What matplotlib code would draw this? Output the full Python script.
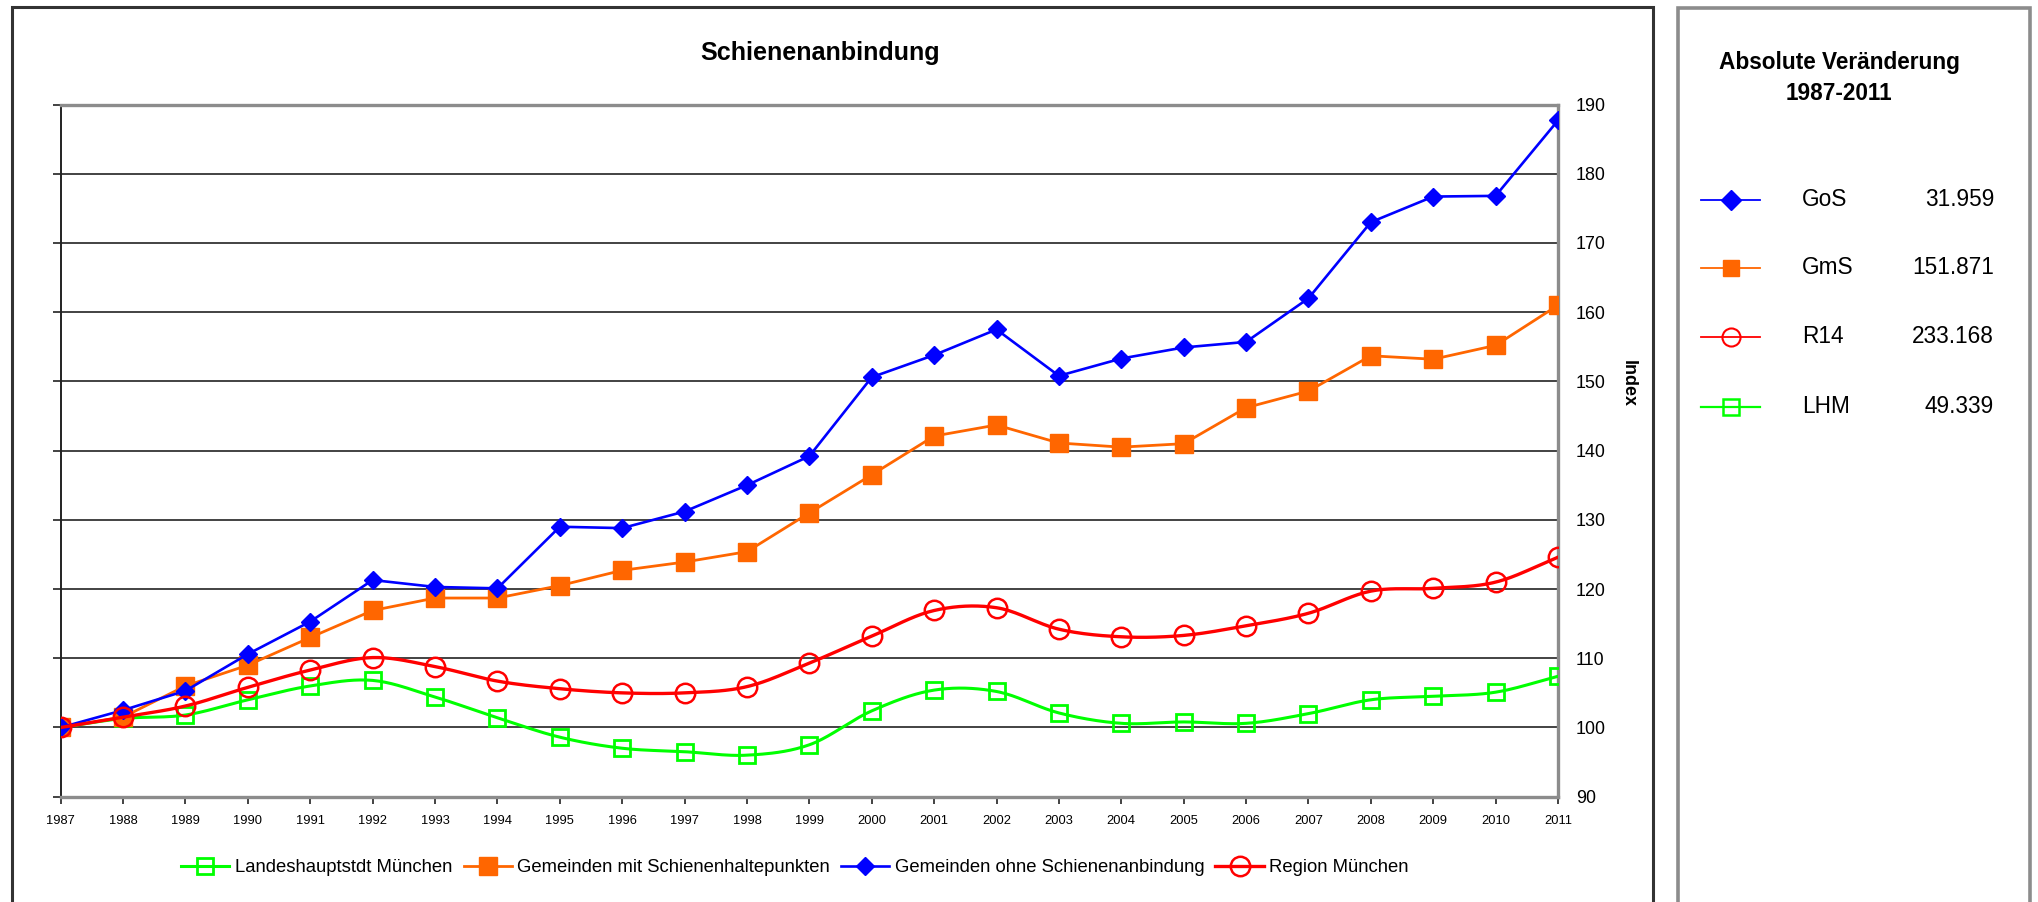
import numpy as np
import matplotlib
matplotlib.use('Agg')
import matplotlib.pyplot as plt
from matplotlib.lines import Line2D
from matplotlib.patches import Rectangle
from matplotlib import font_manager

# ---------------- data ----------------
years = list(range(1987, 2012))
gos = [100, 102.5, 105.3, 110.6, 115.3, 121.3, 120.3, 120.1, 129.0, 128.8, 131.2, 135.0,
       139.2, 150.6, 153.8, 157.5, 150.8, 153.3, 154.9, 155.7, 162.0, 173.0, 176.7, 176.8, 187.7]
gms = [100, 101.5, 106.0, 109.0, 113.0, 116.9, 118.7, 118.7, 120.5, 122.7, 123.9, 125.4,
       131.0, 136.5, 142.1, 143.7, 141.1, 140.5, 141.0, 146.2, 148.6, 153.7, 153.2, 155.2, 161.0]
r14 = [100, 101.5, 103.1, 105.8, 108.3, 110.1, 108.8, 106.7, 105.6, 105.0, 105.0, 105.9,
       109.3, 113.2, 116.9, 117.3, 114.2, 113.1, 113.3, 114.7, 116.5, 119.7, 120.1, 121.0, 124.6]
lhm = [100, 101.3, 101.8, 104.0, 106.0, 106.8, 104.4, 101.4, 98.6, 97.0, 96.5, 96.0,
       97.5, 102.4, 105.4, 105.2, 102.1, 100.6, 100.8, 100.6, 102.0, 104.0, 104.5, 105.1, 107.4]

series_names = ["Landeshauptstdt München", "Gemeinden mit Schienenhaltepunkten",
                "Gemeinden ohne Schienenanbindung", "Region München"]
short_names = ["GoS", "GmS", "R14", "LHM"]
abs_change = ["31.959", "151.871", "233.168", "49.339"]
y_ticks = list(range(90, 191, 10))

title = "Schienenanbindung"
panel_title = "Absolute Veränderung\n1987-2011"

# ---------------- fonts ----------------
names = {f.name for f in font_manager.fontManager.ttflist}
if 'Liberation Sans Narrow' in names:
    FONT = 'Liberation Sans Narrow'
    fs = 1.0
else:
    FONT = 'Liberation Sans'
    fs = 0.86
plt.rcParams['font.family'] = [FONT, 'DejaVu Sans']

W, H = 2038, 902
fig = plt.figure(figsize=(W / 100, H / 100), dpi=100)


def fx(px):
    return px / W


def fy(py):
    return 1 - py / H


ax = fig.add_axes([fx(60.7), fy(796.7), fx(1558) - fx(60.7), fy(104.5) - fy(796.7)])


def catmull(x, y, n=20):
    x = np.asarray(x, float)
    y = np.asarray(y, float)
    px = np.concatenate([[2 * x[0] - x[1]], x, [2 * x[-1] - x[-2]]])
    py = np.concatenate([[2 * y[0] - y[1]], y, [2 * y[-1] - y[-2]]])
    xs, ys = [], []
    t = np.linspace(0, 1, n, endpoint=False)
    for i in range(1, len(px) - 2):
        for arr, out in ((px, xs), (py, ys)):
            p0, p1, p2, p3 = arr[i - 1], arr[i], arr[i + 1], arr[i + 2]
            out.extend(0.5 * ((2 * p1) + (-p0 + p2) * t + (2 * p0 - 5 * p1 + 4 * p2 - p3) * t ** 2
                              + (-p0 + 3 * p1 - 3 * p2 + p3) * t ** 3))
    xs.append(x[-1])
    ys.append(y[-1])
    return xs, ys


GREEN = '#00FF00'
ORANGE = '#FF6600'
BLUE = '#0000FF'
RED = '#FF0000'

# green (smoothed)
sx, sy = catmull(years, lhm)
ax.plot(sx, sy, color=GREEN, lw=2.2, zorder=3)
ax.plot(years, lhm, ls='none', marker='s', ms=11, mfc='none', mec=GREEN, mew=2.0, zorder=3)
# orange
ax.plot(years, gms, color=ORANGE, lw=2.0, marker='s', ms=12.5, mfc=ORANGE, mec=ORANGE, zorder=4)
# blue
ax.plot(years, gos, color=BLUE, lw=1.9, marker='D', ms=9.0, mfc=BLUE, mec=BLUE, zorder=5)
# red (smoothed)
sx, sy = catmull(years, r14)
ax.plot(sx, sy, color=RED, lw=2.4, zorder=6)
ax.plot(years, r14, ls='none', marker='o', ms=14, mfc='none', mec=RED, mew=1.8, zorder=6)

ax.set_xlim(years[0], years[-1])
ax.set_ylim(y_ticks[0], y_ticks[-1])
ax.set_yticks(y_ticks)
ax.set_xticks(years)
ax.set_xticklabels([str(y) for y in years], fontsize=10.8 * fs)
ax.tick_params(axis='x', direction='out', length=5, width=1.2, color='#222', pad=8)
ax.tick_params(axis='y', direction='out', length=6, width=1.2, color='#222',
               labelleft=False, left=True)
ax.yaxis.grid(True, color='#222', lw=1.2)
ax.set_axisbelow(True)
ax.spines['left'].set_color('#222')
ax.spines['left'].set_linewidth(1.4)
for s in ('right', 'top', 'bottom'):
    ax.spines[s].set_color('#8c8c8c')
    ax.spines[s].set_linewidth(2.4)

ax2 = ax.twinx()
ax2.set_ylim(y_ticks[0], y_ticks[-1])
ax2.set_yticks(y_ticks)
ax2.set_yticklabels([str(v) for v in y_ticks], fontsize=15 * fs)
ax2.tick_params(axis='y', length=0, pad=13)
for s in ax2.spines.values():
    s.set_visible(False)

fig.text(fx(1628), fy(384), "Index", rotation=-90, ha='center', va='center',
         fontsize=15 * fs, fontweight='bold')
fig.text(fx(820), fy(53), title, ha='center', va='center', fontsize=21 * fs, fontweight='bold')

# bottom legend
handles = [
    Line2D([], [], color=GREEN, lw=2.2, marker='s', ms=11, mfc='none', mec=GREEN, mew=2.0),
    Line2D([], [], color=ORANGE, lw=2.0, marker='s', ms=12.5, mfc=ORANGE, mec=ORANGE),
    Line2D([], [], color=BLUE, lw=1.9, marker='D', ms=9.0, mfc=BLUE, mec=BLUE),
    Line2D([], [], color=RED, lw=2.4, marker='o', ms=14, mfc='none', mec=RED, mew=1.8),
]
fig.legend(handles, series_names, loc='center', bbox_to_anchor=(fx(795), fy(868)), ncol=4,
           frameon=False, fontsize=15.5 * fs, handlelength=2.6, handletextpad=0.3,
           columnspacing=0.6, borderaxespad=0)

# frames
fig.add_artist(Rectangle((fx(12), -0.05), fx(1653) - fx(12), fy(7) + 0.05, transform=fig.transFigure,
                         fill=False, edgecolor='#333333', lw=2.2))
fig.add_artist(Rectangle((fx(1678), -0.05), fx(2030) - fx(1678), fy(8) + 0.05, transform=fig.transFigure,
                         fill=False, edgecolor='#8c8c8c', lw=2.6))

# side panel
fig.text(fx(1839), fy(78), panel_title, ha='center', va='center', fontsize=19 * fs,
         fontweight='bold', linespacing=1.45)
panel_styles = [
    dict(color=BLUE, marker='D', ms=10.5, mfc=BLUE, mec=BLUE, lw=1.3),
    dict(color=ORANGE, marker='s', ms=12, mfc=ORANGE, mec=ORANGE, lw=1.3),
    dict(color=RED, marker='o', ms=13, mfc='none', mec=RED, mew=1.5, lw=1.3),
    dict(color=GREEN, marker='s', ms=12, mfc='none', mec=GREEN, mew=1.8, lw=1.6),
]
row_y = [200, 268, 337, 407]
for name, val, st, ry in zip(short_names, abs_change, panel_styles, row_y):
    st = dict(st)
    marker = st.pop('marker'); ms = st.pop('ms'); mfc = st.pop('mfc'); mec = st.pop('mec')
    mew = st.pop('mew', 1.0)
    fig.add_artist(Line2D([fx(1701), fx(1760)], [fy(ry), fy(ry)], transform=fig.transFigure, **st))
    fig.add_artist(Line2D([fx(1731)], [fy(ry)], transform=fig.transFigure, ls='none',
                          marker=marker, ms=ms, mfc=mfc, mec=mec, mew=mew))
    fig.text(fx(1802), fy(ry), name, ha='left', va='center', fontsize=19 * fs)
    fig.text(fx(1994), fy(ry), val, ha='right', va='center', fontsize=19 * fs)

fig.savefig('out.png', dpi=100)
